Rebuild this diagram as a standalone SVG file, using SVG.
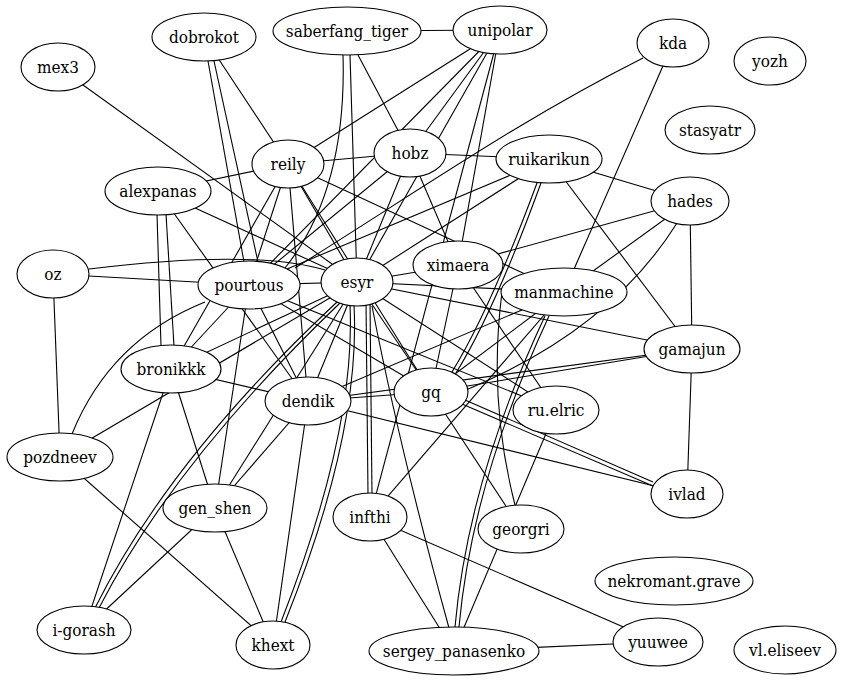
<svg xmlns="http://www.w3.org/2000/svg" width="843" height="681" viewBox="0 0 843 681">
<style>
.e path{fill:none;stroke:#000;stroke-width:1.1}
.n ellipse{fill:#fff;stroke:#000;stroke-width:1.1}
.n text{font-family:'DejaVu Serif Condensed','DejaVu Serif',serif;font-stretch:condensed;font-size:17px;text-anchor:middle;fill:#000}
</style>
<rect width="843" height="681" fill="#fff"/>
<g id="edges" class="e">
<path d="M58,67 L357,282"/>
<path d="M204,37 L288,164"/>
<path d="M208,61 L244,262"/>
<path d="M214,61 L258,262"/>
<path d="M347,31 L500,30"/>
<path d="M358,55 L410,153"/>
<path d="M350,55 L357,282"/>
<path d="M343,55 Q347,190 285,268"/>
<path d="M500,30 L288,164"/>
<path d="M500,30 L249,285"/>
<path d="M500,30 L410,153"/>
<path d="M500,30 L357,282"/>
<path d="M500,30 L458,265"/>
<path d="M500,30 L370,517"/>
<path d="M643,58 C520,120 420,190 295,268"/>
<path d="M673,43 L564,292"/>
<path d="M288,164 L410,153"/>
<path d="M288,164 L158,191"/>
<path d="M288,164 L171,369"/>
<path d="M288,164 L249,285"/>
<path d="M288,164 L308,401"/>
<path d="M288,164 L357,282"/>
<path d="M288,164 L431,392"/>
<path d="M288,164 L564,292"/>
<path d="M410,153 L549,159"/>
<path d="M410,153 L249,285"/>
<path d="M410,153 L357,282"/>
<path d="M410,153 L458,265"/>
<path d="M158,191 L357,282"/>
<path d="M157,214 L161,346"/>
<path d="M166,214 L174,346"/>
<path d="M158,191 L308,401"/>
<path d="M549,159 L690,201"/>
<path d="M549,159 L692,349"/>
<path d="M549,159 L249,285"/>
<path d="M549,159 L357,282"/>
<path d="M537,183 Q490,310 452,372"/>
<path d="M541,183 Q494,312 456,373"/>
<path d="M690,201 L458,265"/>
<path d="M690,201 L564,292"/>
<path d="M690,201 L692,349"/>
<path d="M677,223 Q610,330 466,390"/>
<path d="M89,269 Q253,249 325,270"/>
<path d="M53,274 L249,285"/>
<path d="M53,274 L60,457"/>
<path d="M249,285 L357,282"/>
<path d="M249,285 L171,369"/>
<path d="M249,285 L308,401"/>
<path d="M249,285 L215,508"/>
<path d="M249,285 L556,410"/>
<path d="M249,285 L431,392"/>
<path d="M72,434 Q110,340 205,302"/>
<path d="M357,282 L458,265"/>
<path d="M357,282 L564,292"/>
<path d="M357,282 L692,349"/>
<path d="M357,282 L308,401"/>
<path d="M357,282 L431,392"/>
<path d="M357,282 L556,410"/>
<path d="M366,300 L368,495"/>
<path d="M370,300 L372,495"/>
<path d="M372,306 Q400,450 449,628"/>
<path d="M350,305 Q356,430 281,622"/>
<path d="M354,305 Q361,432 285,622"/>
<path d="M337,302 Q170,458 95,608"/>
<path d="M340,303 Q174,462 99,608"/>
<path d="M357,282 L215,508"/>
<path d="M357,282 L171,369"/>
<path d="M357,282 L60,457"/>
<path d="M60,457 L273,645"/>
<path d="M215,508 L171,369"/>
<path d="M215,508 L308,401"/>
<path d="M215,508 L273,645"/>
<path d="M215,508 L84,630"/>
<path d="M171,369 L308,401"/>
<path d="M171,369 L84,630"/>
<path d="M308,401 L273,645"/>
<path d="M308,401 L431,392"/>
<path d="M308,401 L687,494"/>
<path d="M308,401 L564,292"/>
<path d="M308,401 L692,349"/>
<path d="M431,392 L521,529"/>
<path d="M462,404 L653,486"/>
<path d="M465,400 L653,482"/>
<path d="M431,392 L692,349"/>
<path d="M431,392 L564,292"/>
<path d="M431,392 L458,265"/>
<path d="M458,265 L556,410"/>
<path d="M564,292 L370,517"/>
<path d="M545,316 Q468,480 455,627"/>
<path d="M549,316 Q472,482 459,627"/>
<path d="M502,292 Q488,400 515,505"/>
<path d="M556,410 L454,651"/>
<path d="M370,517 L454,651"/>
<path d="M370,517 L658,642"/>
<path d="M454,651 L658,642"/>
<path d="M692,349 L687,494"/>
</g>
<g id="mex3" class="n"><ellipse cx="58" cy="67" rx="37" ry="24"/><text x="58" y="73">mex3</text></g>
<g id="dobrokot" class="n"><ellipse cx="204" cy="37" rx="52" ry="24"/><text x="204" y="43">dobrokot</text></g>
<g id="saberfang_tiger" class="n"><ellipse cx="347" cy="31" rx="74" ry="24"/><text x="347" y="37">saberfang_tiger</text></g>
<g id="unipolar" class="n"><ellipse cx="500" cy="30" rx="47" ry="24"/><text x="500" y="36">unipolar</text></g>
<g id="kda" class="n"><ellipse cx="673" cy="43" rx="36" ry="24"/><text x="673" y="49">kda</text></g>
<g id="yozh" class="n"><ellipse cx="770" cy="61" rx="36" ry="24"/><text x="770" y="67">yozh</text></g>
<g id="stasyatr" class="n"><ellipse cx="710" cy="130" rx="45" ry="24"/><text x="710" y="136">stasyatr</text></g>
<g id="reily" class="n"><ellipse cx="288" cy="164" rx="36" ry="24"/><text x="288" y="170">reily</text></g>
<g id="hobz" class="n"><ellipse cx="410" cy="153" rx="36" ry="24"/><text x="410" y="159">hobz</text></g>
<g id="alexpanas" class="n"><ellipse cx="158" cy="191" rx="53" ry="24"/><text x="158" y="197">alexpanas</text></g>
<g id="ruikarikun" class="n"><ellipse cx="549" cy="159" rx="53" ry="24"/><text x="549" y="165">ruikarikun</text></g>
<g id="hades" class="n"><ellipse cx="690" cy="201" rx="39" ry="24"/><text x="690" y="207">hades</text></g>
<g id="oz" class="n"><ellipse cx="53" cy="274" rx="36" ry="24"/><text x="53" y="280">oz</text></g>
<g id="pourtous" class="n"><ellipse cx="249" cy="285" rx="51" ry="24"/><text x="249" y="291">pourtous</text></g>
<g id="esyr" class="n"><ellipse cx="357" cy="282" rx="36" ry="24"/><text x="357" y="288">esyr</text></g>
<g id="ximaera" class="n"><ellipse cx="458" cy="265" rx="45" ry="24"/><text x="458" y="271">ximaera</text></g>
<g id="manmachine" class="n"><ellipse cx="564" cy="292" rx="63" ry="24"/><text x="564" y="298">manmachine</text></g>
<g id="gamajun" class="n"><ellipse cx="692" cy="349" rx="48" ry="24"/><text x="692" y="355">gamajun</text></g>
<g id="bronikkk" class="n"><ellipse cx="171" cy="369" rx="50" ry="24"/><text x="171" y="375">bronikkk</text></g>
<g id="dendik" class="n"><ellipse cx="308" cy="401" rx="43" ry="24"/><text x="308" y="407">dendik</text></g>
<g id="gq" class="n"><ellipse cx="431" cy="392" rx="37" ry="24"/><text x="431" y="398">gq</text></g>
<g id="ru.elric" class="n"><ellipse cx="556" cy="410" rx="43" ry="24"/><text x="556" y="416">ru.elric</text></g>
<g id="pozdneev" class="n"><ellipse cx="60" cy="457" rx="53" ry="24"/><text x="60" y="463">pozdneev</text></g>
<g id="gen_shen" class="n"><ellipse cx="215" cy="508" rx="52" ry="24"/><text x="215" y="514">gen_shen</text></g>
<g id="infthi" class="n"><ellipse cx="370" cy="517" rx="37" ry="24"/><text x="370" y="523">infthi</text></g>
<g id="georgri" class="n"><ellipse cx="521" cy="529" rx="43" ry="24"/><text x="521" y="535">georgri</text></g>
<g id="ivlad" class="n"><ellipse cx="687" cy="494" rx="36" ry="24"/><text x="687" y="500">ivlad</text></g>
<g id="nekromant.grave" class="n"><ellipse cx="674" cy="581" rx="79" ry="24"/><text x="674" y="587">nekromant.grave</text></g>
<g id="i-gorash" class="n"><ellipse cx="84" cy="630" rx="47" ry="24"/><text x="84" y="636">i-gorash</text></g>
<g id="khext" class="n"><ellipse cx="273" cy="645" rx="37" ry="24"/><text x="273" y="651">khext</text></g>
<g id="sergey_panasenko" class="n"><ellipse cx="454" cy="651" rx="85" ry="24"/><text x="454" y="657">sergey_panasenko</text></g>
<g id="yuuwee" class="n"><ellipse cx="658" cy="642" rx="45" ry="24"/><text x="658" y="648">yuuwee</text></g>
<g id="vl.eliseev" class="n"><ellipse cx="785" cy="650" rx="51" ry="24"/><text x="785" y="656">vl.eliseev</text></g>
</svg>
